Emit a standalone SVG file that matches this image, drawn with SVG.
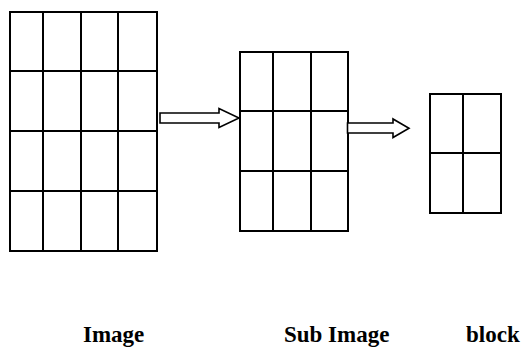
<svg xmlns="http://www.w3.org/2000/svg" width="521" height="347" viewBox="0 0 521 347">
  <style>
    .grid { fill: none; stroke: #000; stroke-width: 2; }
    .arrow { fill: #fff; stroke: #000; stroke-width: 1.6; stroke-linejoin: miter; }
    .label { font-family: "Liberation Serif", "Times New Roman", serif; font-weight: bold; font-size: 23px; fill: #000; }
  </style>
  <rect width="521" height="347" fill="#fff"/>

  <!-- 4x4 grid: full image -->
  <g id="image">
    <rect class="grid" x="10" y="12" width="147" height="239"/>
    <path class="grid" d="M43 12V251M81 12V251M118 12V251M10 71H157M10 131H157M10 191H157"/>
  </g>

  <!-- 3x3 grid: sub image -->
  <g id="sub-image">
    <rect class="grid" x="240" y="52" width="108" height="179"/>
    <path class="grid" d="M273 52V231M311 52V231M240 111H348M240 171H348"/>
  </g>

  <!-- 2x2 grid: block -->
  <g id="block">
    <rect class="grid" x="430" y="94" width="71" height="119"/>
    <path class="grid" d="M463 94V213M430 153H501"/>
  </g>

  <!-- hollow block arrows between the grids -->
  <g id="connectors">
    <path class="arrow" d="M160 113H219V108.5L239 118L219 127.5V123H160Z"/>
    <path class="arrow" d="M347.5 123H393V119L409 128.3L393 137.5V133H347.5Z"/>
  </g>

  <g id="labels">
    <text class="label" x="83" y="341.5">Image</text>
    <text class="label" x="284" y="341.5">Sub Image</text>
    <text class="label" x="466" y="341.5">block</text>
  </g>
</svg>
